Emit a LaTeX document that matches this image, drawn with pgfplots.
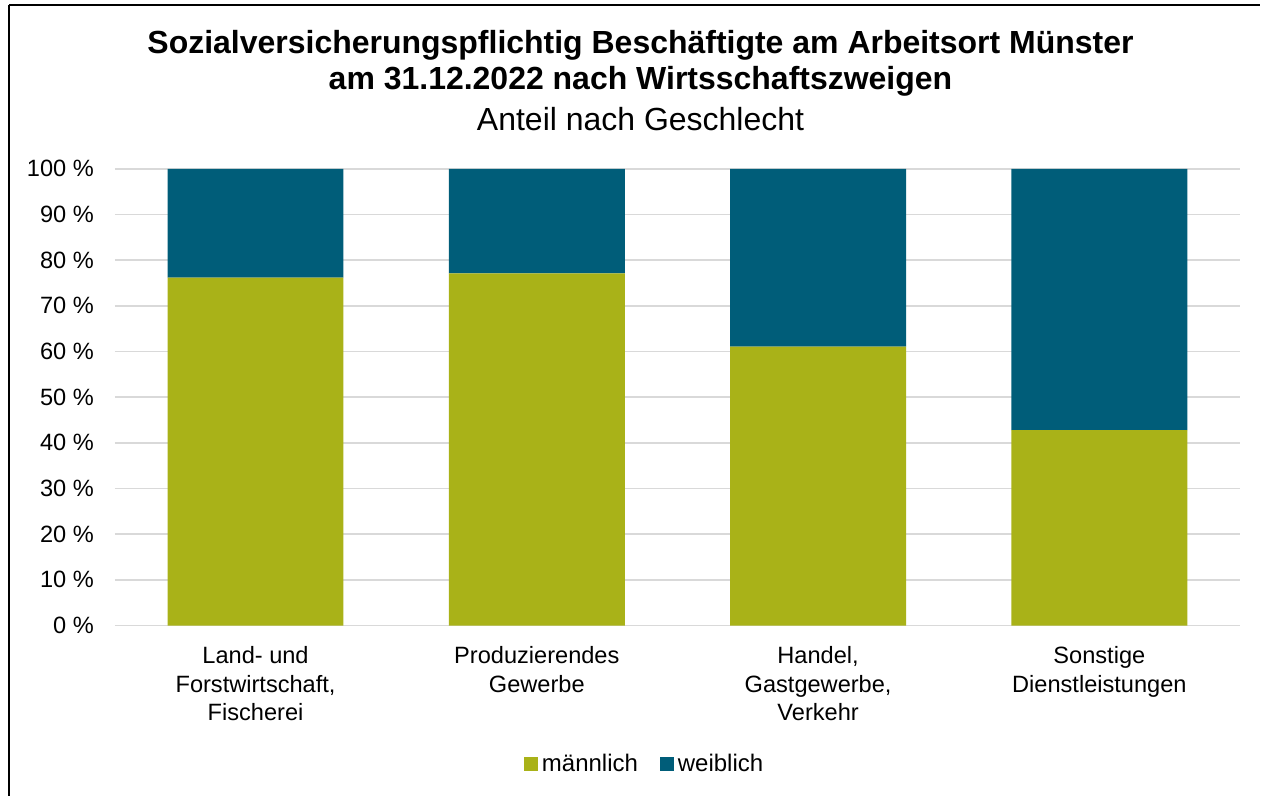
\documentclass[border=0pt]{standalone}
\usepackage{pgfplots}
\pgfplotsset{compat=1.18}
\usepackage{fontspec}
\setmainfont{Liberation Sans}
\definecolor{mgreen}{HTML}{A9B218}
\definecolor{wblue}{HTML}{005D79}
\definecolor{gridgray}{HTML}{D9D9D9}
\begin{document}
\begin{tikzpicture}
\path (0pt,0pt) rectangle (630.5pt,398.5pt);
\draw[line width=1pt] (4.5pt,396pt) -- (630.5pt,396pt);
\draw[line width=1pt] (4.5pt,396pt) -- (4.5pt,0pt);
\node[font=\fontsize{16}{18}\selectfont\bfseries] at (320.5pt,376pt) {Sozialversicherungspflichtig Beschäftigte am Arbeitsort Münster};
\node[font=\fontsize{16}{18}\selectfont\bfseries] at (320.5pt,358pt) {am 31.12.2022 nach Wirtsschaftszweigen};
\node[font=\fontsize{16}{18}\selectfont] at (320.5pt,339pt) {Anteil nach Geschlecht};
\begin{axis}[
  at={(57.5pt,85.5pt)}, anchor=south west,
  scale only axis, width=563pt, height=228.5pt,
  ybar stacked, bar width=88pt,
  xmin=-0.5, xmax=3.5, ymin=0, ymax=100,
  xtick={0,1,2,3},
  xticklabels={{Land- und\\Forstwirtschaft,\\Fischerei},{Produzierendes\\Gewerbe},{Handel,\\Gastgewerbe,\\Verkehr},{Sonstige\\Dienstleistungen}},
  xticklabel style={align=center, font=\fontsize{11.8}{14.3}\selectfont, yshift=-7pt},
  ytick={0,10,...,100},
  yticklabel={\pgfmathprintnumber{\tick}~\%},
  yticklabel style={font=\fontsize{11.8}{14}\selectfont, xshift=-7pt},
  /pgf/number format/assume math mode=true,
  major tick length=0pt,
  axis line style={draw=none},
  axis x line*=bottom, axis y line*=left,
  ymajorgrids, grid style={gridgray, line width=0.9pt},
  legend style={at={(0.4717,-0.303)}, anchor=center, draw=none, legend columns=2,
    font=\fontsize{12}{14}\selectfont, /tikz/every even column/.append style={column sep=9pt}},
  legend image code/.code={\fill[#1] (0pt,-3.5pt) rectangle (7pt,3.5pt);},
]
\addplot[fill=mgreen, draw=none] coordinates {(0,76.2) (1,77.1) (2,61.1) (3,42.8)};
\addplot[fill=wblue, draw=none] coordinates {(0,23.8) (1,22.9) (2,38.9) (3,57.2)};
\legend{männlich,weiblich}
\end{axis}
\end{tikzpicture}
\end{document}
